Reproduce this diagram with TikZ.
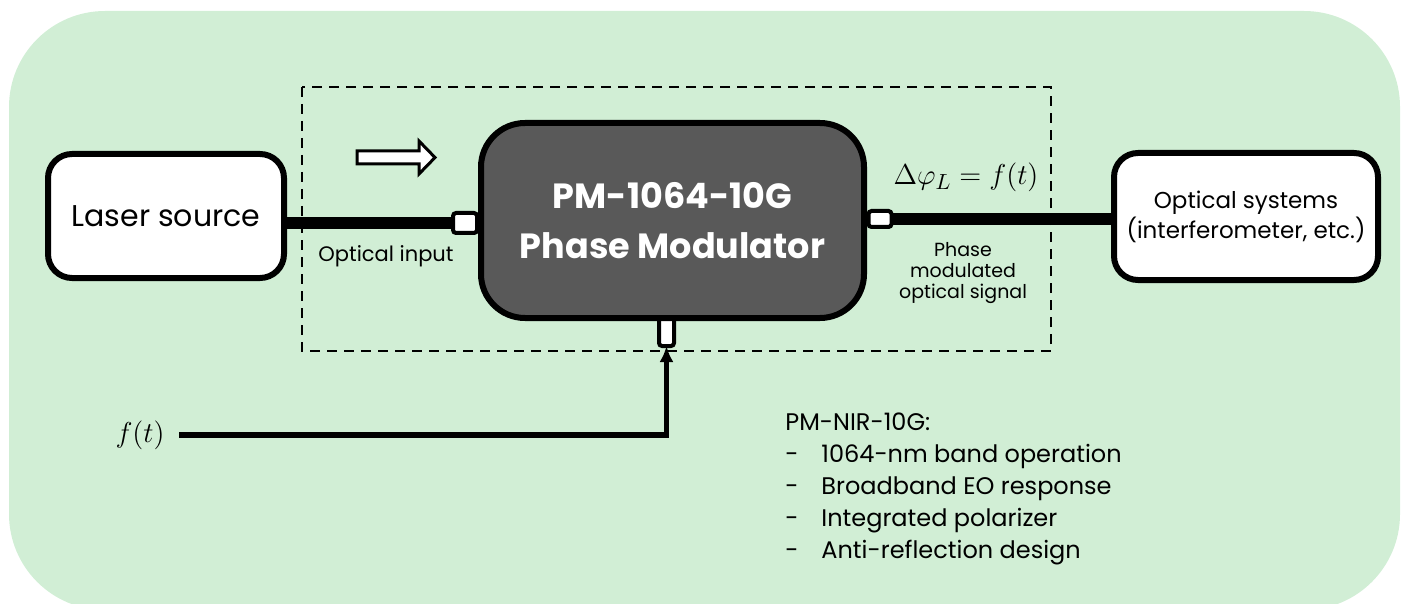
\documentclass[tikz,border=0pt]{standalone}
\usepackage{fontspec}
\setmainfont{Poppins}
\usetikzlibrary{arrows.meta}
\definecolor{bggreen}{RGB}{209,238,213}
\definecolor{modgray}{RGB}{89,89,89}

\begin{document}
\begin{tikzpicture}[x=0.5pt,y=-0.5pt,>=Latex]
  \tikzset{
    block/.style={draw,line width=3pt,rounded corners=12pt,fill=white,
      inner sep=0pt,outer sep=0pt,align=center},
    port/.style={draw,line width=2pt,rounded corners=1.5pt,fill=white,
      inner sep=0pt,outer sep=0pt},
    fiber/.style={line width=6pt},
    rf/.style={line width=2.8pt,-{Latex[length=8pt,width=7pt]}},
    frame/.style={line width=1pt,dash pattern=on 5pt off 3.5pt},
    tag/.style={inner sep=0pt,align=center}
  }
  \useasboundingbox (0,0) rectangle (1401,604);
  \begin{scope}
    \clip (0,0) rectangle (1401,604);
    \fill[bggreen,rounded corners=48pt] (9,11) rectangle (1400,610);
  \end{scope}
  \draw[frame] (302,87) rectangle (1051,351);

  \node[block,minimum width=118pt,minimum height=62pt,
    font=\fontsize{15}{18}\selectfont] (laser) at (166,216) {Laser source};
  \node[block,minimum width=132pt,minimum height=63.5pt,
    font=\fontsize{11.5}{15}\selectfont] (optics) at (1246,216.5)
    {Optical systems\\(interferometer, etc.)};

  \node[port,minimum width=12pt,minimum height=10pt] (inport) at (465,223) {};
  \node[port,minimum width=11.5pt,minimum height=8pt] (outport) at (880,219) {};
  \node[port,minimum width=7.5pt,minimum height=14.5pt] (rfport) at (666.5,331.5) {};
  \node[block,fill=modgray,rounded corners=22pt,minimum width=191.5pt,
    minimum height=97.5pt,text=white,font=\fontsize{17.5}{25}\selectfont\bfseries]
    (modulator) at (672.5,220.5) {PM-1064-10G\\Phase Modulator};

  \draw[fiber] (laser.east |- inport) -- (inport.west);
  \draw[fiber] (outport.east) -- (outport.east -| optics.west);

  \draw[line width=1.5pt,fill=white] (357,151) -- (419,151) -- (419,141)
    -- (435,157.5) -- (419,174) -- (419,164) -- (357,164) -- cycle;

  \node[tag,anchor=east,inner xsep=7pt,font=\fontsize{14}{16}\selectfont]
    (ft) at (179,435) {$f(t)$};
  \draw[rf] (ft.east) -| (rfport.south);

  \node[tag,font=\fontsize{10.5}{12}\selectfont] (inlabel) at (386,256)
    {Optical input};
  \node[tag,font=\fontsize{15}{17}\selectfont] (phase) at (966,177)
    {$\Delta\varphi_L = f(t)$};
  \node[tag,font=\fontsize{9.5}{10.5}\selectfont] (outlabel) at (963,273)
    {Phase\\modulated\\optical signal};
  \node[tag,anchor=north west,align=left,font=\fontsize{12}{16}\selectfont]
    (specs) at (785,412)
    {PM-NIR-10G:\\
     \makebox[18pt][l]{-}1064-nm band operation\\
     \makebox[18pt][l]{-}Broadband EO response\\
     \makebox[18pt][l]{-}Integrated polarizer\\
     \makebox[18pt][l]{-}Anti-reflection design};
\end{tikzpicture}
\end{document}
